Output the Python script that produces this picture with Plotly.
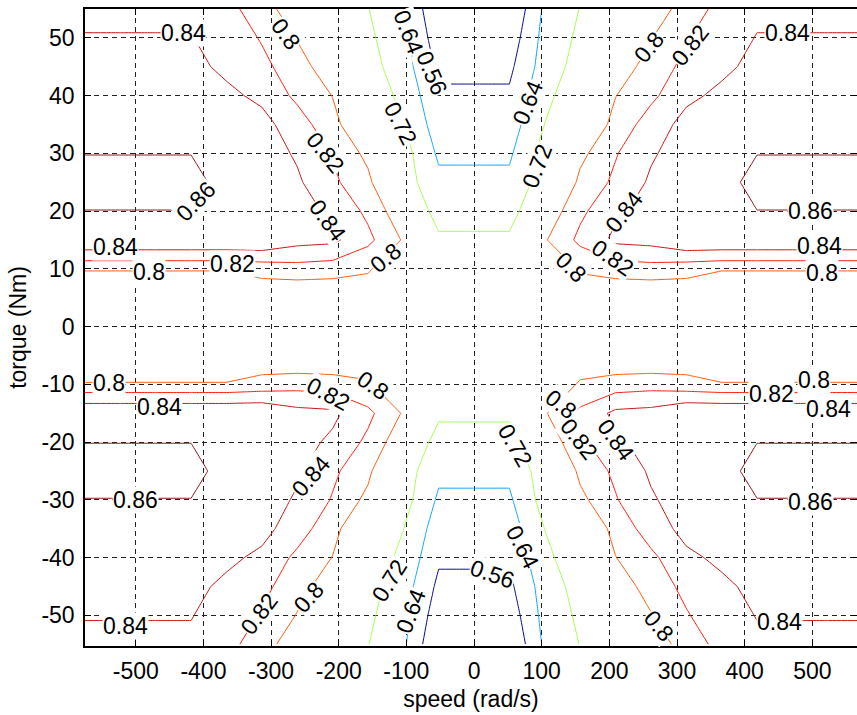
import numpy as np
import plotly.graph_objects as go

# ---- data ----
speed_grid = [-575.0, -522.7, -470.5, -418.2, -365.9, -313.6, -261.4, -209.1, -156.8, -104.5, -52.3, 0.0,
              52.3, 104.5, 156.8, 209.1, 261.4, 313.6, 365.9, 418.2, 470.5, 522.7, 575.0]
torque_grid = [-55, -50, -45, -40, -35, -30, -25, -20, -15, -10, -5, 0,
               5, 10, 15, 20, 25, 30, 35, 40, 45, 50, 55]

# efficiency for |torque| = 0..55 (rows) and |speed| = 0..575 (columns); the map is mirror symmetric
eff_t00 = [0.755, 0.755, 0.770, 0.780, 0.770, 0.770, 0.770, 0.730, 0.730, 0.730, 0.730, 0.730]
eff_t05 = [0.750, 0.750, 0.775, 0.788, 0.7806, 0.780, 0.784, 0.735, 0.735, 0.735, 0.735, 0.735]
eff_t10 = [0.740, 0.740, 0.783, 0.8023, 0.810, 0.8124, 0.808, 0.805, 0.805, 0.805, 0.805, 0.805]
eff_t15 = [0.7307, 0.7307, 0.798, 0.825, 0.8445, 0.847, 0.8585, 0.858, 0.858, 0.858, 0.858, 0.858]
eff_t20 = [0.695, 0.695, 0.785, 0.8156, 0.836, 0.848, 0.856, 0.857, 0.8598, 0.8598, 0.8598, 0.8598]
eff_t25 = [0.658, 0.658, 0.760, 0.8052, 0.824, 0.843, 0.853, 0.8544, 0.865, 0.865, 0.865, 0.865]
eff_t30 = [0.6277, 0.6277, 0.753, 0.7944, 0.8185, 0.8375, 0.850, 0.853, 0.8597, 0.8597, 0.8597, 0.8597]
eff_t35 = [0.5997, 0.5997, 0.721, 0.780, 0.806, 0.830, 0.846, 0.849, 0.855, 0.855, 0.855, 0.855]
eff_t40 = [0.5717, 0.5717, 0.7027, 0.765, 0.7995, 0.8153, 0.836, 0.844, 0.850, 0.850, 0.850, 0.850]
eff_t45 = [0.5425, 0.5425, 0.678, 0.750, 0.790, 0.807, 0.826, 0.836, 0.845, 0.845, 0.845, 0.845]
eff_t50 = [0.513, 0.513, 0.6675, 0.735, 0.780, 0.799, 0.818, 0.8345, 0.8405, 0.8405, 0.8405, 0.8405]
eff_t55 = [0.481, 0.481, 0.655, 0.7223, 0.770, 0.786, 0.810, 0.826, 0.8377, 0.8377, 0.8377, 0.8377]

levels = [0.56, 0.64, 0.72, 0.80, 0.82, 0.84, 0.86]
level_colors = ["#0a0a96", "#14a5ff", "#a5ff50", "#ff5a0a", "#ff1e0a", "#c81414", "#8c1414"]

# inline contour labels (text, speed, torque, rotation)
label_text = ["0.84", "0.8", "0.82", "0.84", "0.86", "0.84", "0.8", "0.82", "0.8", "0.72", "0.64", "0.56",
              "0.64", "0.72", "0.8", "0.82", "0.84", "0.84", "0.86", "0.84", "0.8", "0.82", "0.8",
              "0.8", "0.84", "0.86", "0.84", "0.8", "0.82", "0.84", "0.82", "0.8", "0.72", "0.64",
              "0.56", "0.64", "0.72", "0.8", "0.82", "0.84", "0.8", "0.84", "0.86", "0.8", "0.82", "0.84"]
label_speed = [-429, -278, -219, -217, -411, -529.6, -480, -357, -130.5, -108, -97, -62,
               78.9, 92.7, 258.7, 320, 463, 221.7, 497.6, 510, 515, 205, 143,
               -539.7, -465.6, -500, -514.8, -150, -215, -241, -317.7, -243.8, -125.6, -93.6,
               27.2, 71.5, 61.6, 128, 155.2, 209.4, 273.4, 450.8, 497.6, 503, 440, 524]
label_torque = [50.9, 50.7, 30.1, 18.4, 21.8, 13.8, 9.5, 10.9, 11.8, 35.1, 51.0, 44.0,
                38.8, 27.9, 48.4, 48.7, 50.9, 19.8, 20.1, 13.9, 9.3, 11.8, 10.3,
                -9.8, -13.9, -30.1, -51.8, -10.1, -11.6, -25.8, -49.8, -46.9, -44, -49.2,
                -42.8, -38.2, -20.6, -13.4, -19.4, -19.7, -51.8, -51.2, -30.4, -9.3, -11.7, -14.3]
label_angle = [0, 54, 51, 54, -46, 0, 0, 0, -40, 63, 69, 67,
               -68, -69, -51, -52, 0, -52, 0, 0, 0, 35, 45,
               0, 0, 0, 0, 35, 28, -49, -53, -48, -58, -69,
               19, 63, 60, 38, 52, 54, 50, 0, 0, 0, 0, 0]

x_tickvals = [-500, -400, -300, -200, -100, 0, 100, 200, 300, 400, 500]
x_ticktext = ["-500", "-400", "-300", "-200", "-100", "0", "100", "200", "300", "400", "500"]
y_tickvals = [-50, -40, -30, -20, -10, 0, 10, 20, 30, 40, 50]
y_ticktext = ["-50", "-40", "-30", "-20", "-10", "0", "10", "20", "30", "40", "50"]

# ---- build full grid by mirroring the quadrant ----
quad = np.array([eff_t00, eff_t05, eff_t10, eff_t15, eff_t20, eff_t25,
                 eff_t30, eff_t35, eff_t40, eff_t45, eff_t50, eff_t55])
half = np.hstack([quad[:, ::-1], quad[:, 1:]])
eff = np.vstack([half[::-1], half[1:]])

FONT = "Liberation Sans, Arial, sans-serif"

fig = go.Figure()
for lev, col in zip(levels, level_colors):
    fig.add_trace(go.Contour(
        x=speed_grid, y=torque_grid, z=eff,
        autocontour=False,
        contours=dict(start=lev, end=lev, size=0.01, coloring="lines", showlabels=False),
        colorscale=[[0, col], [1, col]],
        line=dict(width=1, smoothing=0),
        showscale=False, hoverinfo="skip",
    ))

for t, sx, ty, ang in zip(label_text, label_speed, label_torque, label_angle):
    fig.add_annotation(x=sx, y=ty, xref="x", yref="y", text=t, showarrow=False,
                       textangle=ang, xanchor="center", yanchor="middle",
                       font=dict(size=23, color="black", family=FONT),
                       bgcolor="white", borderpad=0)

axis_common = dict(
    showgrid=True, gridcolor="#222222", griddash="5px,4px", gridwidth=1,
    zeroline=False, showline=True, linecolor="black", linewidth=1.5, mirror="ticks",
    ticks="inside", ticklen=6, tickcolor="black",
    tickfont=dict(size=23, color="black", family=FONT),
)

fig.update_layout(
    width=857, height=715,
    margin=dict(l=85, r=0, t=9, b=69),
    paper_bgcolor="white", plot_bgcolor="white",
    showlegend=False,
    xaxis=dict(range=[-575, 566], tickvals=x_tickvals, ticktext=x_ticktext,
               title=dict(text="speed (rad/s)", font=dict(size=23, color="black", family=FONT), standoff=8),
               automargin=False, ticklabelstandoff=4, **axis_common),
    yaxis=dict(range=[-55.3, 55], tickvals=y_tickvals, ticktext=y_ticktext,
               title=dict(text="torque (Nm)", font=dict(size=23, color="black", family=FONT), standoff=8),
               automargin=False, ticklabelstandoff=4, **axis_common),
)

fig.write_html("out.html")
